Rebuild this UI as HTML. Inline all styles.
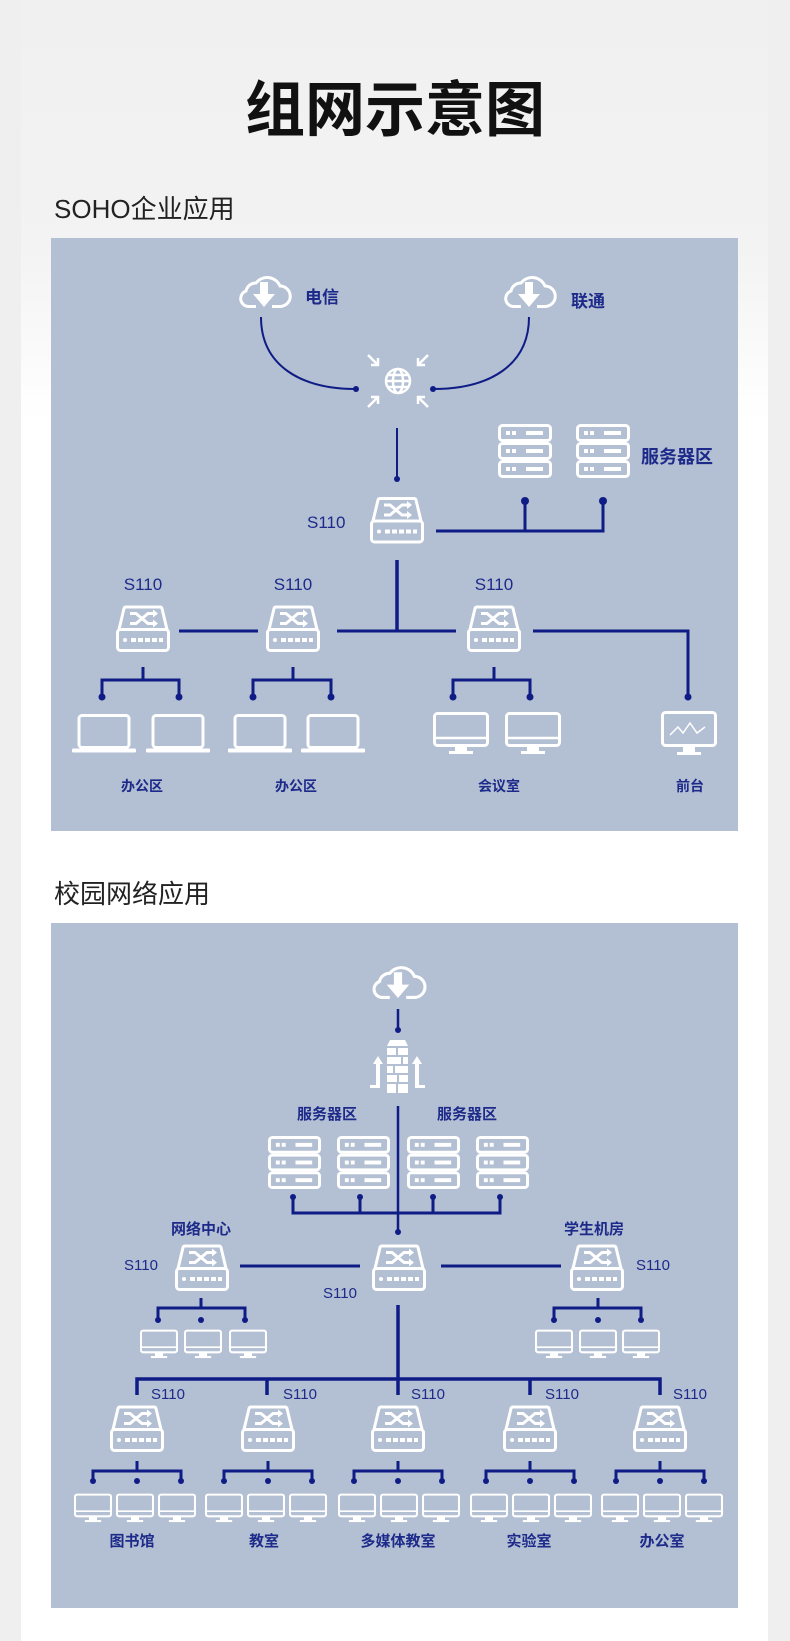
<!DOCTYPE html>
<html><head><meta charset="utf-8"><style>
html,body{margin:0;padding:0;}
body{width:790px;height:1641px;background:#efefef;overflow:hidden;}
.card{position:absolute;left:21px;top:0;width:747px;height:1641px;background:linear-gradient(#f0f0f0 0px,#f3f3f3 250px,#fff 420px,#fff 100%);}
svg{position:absolute;left:0;top:0;}
text{font-family:"Liberation Sans","Noto Sans CJK SC",sans-serif;}
</style></head><body>
<div class="card"></div>
<svg width="790" height="1641" viewBox="0 0 790 1641" xmlns="http://www.w3.org/2000/svg">
<defs>
<symbol id="sw" viewBox="0 0 56 48">
<path d="M4 25 L9 4 Q9.5 2.5 11 2.5 L45 2.5 Q46.5 2.5 47 4 L52 25" fill="none" stroke="#fff" stroke-width="3"/>
<rect x="2.5" y="25" width="51" height="21" rx="3" fill="none" stroke="#fff" stroke-width="3"/>
<circle cx="10" cy="35.5" r="2" fill="#fff"/>
<rect x="16" y="33.5" width="5" height="4" fill="#fff"/><rect x="23" y="33.5" width="5" height="4" fill="#fff"/><rect x="30" y="33.5" width="5" height="4" fill="#fff"/><rect x="37" y="33.5" width="5" height="4" fill="#fff"/><rect x="44" y="33.5" width="4" height="4" fill="#fff"/>
<path d="M15 9 H21 L33 19 H39 M15 19 H21 L33 9 H39" fill="none" stroke="#fff" stroke-width="3"/>
<path d="M38 5 L43 9 L38 13 Z M38 15 L43 19 L38 23 Z" fill="#fff"/>
</symbol>
<symbol id="srv" viewBox="0 0 54 54">
<g fill="none" stroke="#fff" stroke-width="3"><rect x="1.5" y="1.5" width="51" height="15" rx="3"/><rect x="1.5" y="19.5" width="51" height="15" rx="3"/><rect x="1.5" y="37.5" width="51" height="15" rx="3"/></g>
<g fill="#fff"><rect x="8" y="7" width="4" height="4"/><rect x="14" y="7" width="4" height="4"/><rect x="28" y="7" width="17" height="4"/><rect x="8" y="25" width="4" height="4"/><rect x="14" y="25" width="4" height="4"/><rect x="28" y="25" width="17" height="4"/><rect x="8" y="43" width="4" height="4"/><rect x="14" y="43" width="4" height="4"/><rect x="28" y="43" width="17" height="4"/></g>
</symbol>
<symbol id="lap" viewBox="0 0 64 40">
<rect x="7" y="1.5" width="50" height="32" rx="3" fill="none" stroke="#fff" stroke-width="3"/>
<path d="M1.5 36.5 H62.5" stroke="#fff" stroke-width="4" stroke-linecap="round"/>
</symbol>
<symbol id="mon" viewBox="0 0 56 44">
<rect x="1.5" y="1.5" width="53" height="32" rx="3" fill="none" stroke="#fff" stroke-width="3"/>
<path d="M2 26 H54" stroke="#fff" stroke-width="2.5"/>
<rect x="22" y="34" width="12" height="5" fill="#fff"/><rect x="16" y="39" width="24" height="3" fill="#fff"/>
</symbol>
<symbol id="cloud" viewBox="0 0 60 36">
<path d="M22 33.5 H14 A8 8 0 0 1 12 18 A10 10 0 0 1 22 10 A14 14 0 0 1 46 13 A10 10 0 0 1 46 33.5 H38" fill="none" stroke="#fff" stroke-width="3"/>
<rect x="26" y="9" width="8" height="13" fill="#fff"/><path d="M19 21 H41 L30 34 Z" fill="#fff"/>
</symbol>
<symbol id="fw" viewBox="0 0 59 54">
<g fill="#fff"><path d="M22 0 H37 L40 6 H19 Z"/><rect x="19" y="8" width="9" height="7"/><rect x="30" y="8" width="10" height="7"/><rect x="19" y="17" width="14" height="7"/><rect x="35" y="17" width="5" height="7"/><rect x="19" y="26" width="6" height="7"/><rect x="27" y="26" width="13" height="7"/><rect x="19" y="35" width="10" height="7"/><rect x="31" y="35" width="9" height="7"/><rect x="19" y="44" width="9" height="9"/><rect x="30" y="44" width="10" height="9"/>
<path d="M5 24 L10 16 L15 24 H12 V48 H2 V45 H8 V24 Z"/><path d="M44 24 L49 16 L54 24 H51 V45 H57 V48 H47 V24 Z"/></g>
</symbol>
</defs>

<text x="395" y="131" text-anchor="middle" font-size="60" font-weight="bold" fill="#111" style="font-family:'Noto Sans CJK SC',sans-serif">组网示意图</text>
<text x="54" y="218" font-size="26" fill="#222">SOHO企业应用</text>
<rect x="51" y="238" width="687" height="593" fill="#b3bfd2"/>

<!-- panel 1 -->
<use href="#cloud" x="234" y="273" width="60" height="36"/>
<use href="#cloud" x="499" y="273" width="60" height="36"/>
<text x="305" y="303" font-size="17" font-weight="bold" fill="#1d2a8a">电信</text>
<text x="571" y="307" font-size="17" font-weight="bold" fill="#1d2a8a">联通</text>
<g fill="none" stroke="#0f1c86" stroke-width="2">
<path d="M261 317 C261 365 300 389 356 389"/><path d="M529 317 C529 365 490 389 433 389"/>
<path d="M397 428 V479"/>
</g>
<circle cx="356" cy="389" r="3" fill="#0f1c86"/><circle cx="433" cy="389" r="3" fill="#0f1c86"/><circle cx="397" cy="479" r="3" fill="#0f1c86"/>
<g fill="none" stroke="#fff" stroke-width="2.5">
<circle cx="398" cy="381" r="12"/><ellipse cx="398" cy="381" rx="5" ry="12"/><path d="M386 381 H410 M388 375 H408 M388 387 H408"/>
<path d="M368 355 L378 365 M378 358 V365 H371"/><path d="M428 355 L418 365 M418 358 V365 H425"/>
<path d="M368 407 L378 397 M371 397 H378 V404"/><path d="M428 407 L418 397 M425 397 H418 V404"/>
</g>
<use href="#sw" x="369" y="495" width="56" height="50"/>
<text x="307" y="528" font-size="17" fill="#1d2a8a">S110</text>
<use href="#srv" x="498" y="424" width="54" height="54"/>
<use href="#srv" x="576" y="424" width="54" height="54"/>
<text x="641" y="463" font-size="18" font-weight="bold" fill="#1d2a8a">服务器区</text>
<g fill="none" stroke="#0f1c86" stroke-width="3">
<path d="M436 531 H603 V501 M525 531 V501"/>
<path d="M397 560 V631" stroke-width="3.5"/>
<path d="M179 631 H258 M337 631 H456 M533 631 H688 V697"/>
<path d="M143 667 V680 M102 697 V680 H179 V697"/>
<path d="M293 667 V680 M253 697 V680 H331 V697"/>
<path d="M494 667 V680 M453 697 V680 H530 V697"/>
</g>
<g fill="#0f1c86"><circle cx="525" cy="501" r="4"/><circle cx="603" cy="501" r="4"/><circle cx="688" cy="697" r="3.5"/>
<circle cx="102" cy="697" r="3.5"/><circle cx="179" cy="697" r="3.5"/><circle cx="253" cy="697" r="3.5"/><circle cx="331" cy="697" r="3.5"/><circle cx="453" cy="697" r="3.5"/><circle cx="530" cy="697" r="3.5"/></g>
<use href="#sw" x="115" y="603" width="56" height="51"/><use href="#sw" x="265" y="603" width="56" height="51"/><use href="#sw" x="466" y="603" width="56" height="51"/>
<g font-size="17" fill="#1d2a8a" text-anchor="middle"><text x="143" y="590">S110</text><text x="293" y="590">S110</text><text x="494" y="590">S110</text></g>
<use href="#lap" x="72" y="714" width="64" height="40"/><use href="#lap" x="146" y="714" width="64" height="40"/>
<use href="#lap" x="228" y="714" width="64" height="40"/><use href="#lap" x="301" y="714" width="64" height="40"/>
<use href="#mon" x="433" y="711" width="56" height="46"/><use href="#mon" x="505" y="711" width="56" height="46"/>
<g><rect x="662.5" y="712.5" width="53" height="33" rx="3" fill="none" stroke="#fff" stroke-width="3"/>
<path d="M670 735 L678 727 L683 733 L690 723 L697 733 L705 727" fill="none" stroke="#fff" stroke-width="1.5"/>
<rect x="683" y="747" width="12" height="5" fill="#fff"/><rect x="677" y="752" width="24" height="3" fill="#fff"/></g>
<g font-size="14" font-weight="bold" fill="#1d2a8a" text-anchor="middle"><text x="142" y="791">办公区</text><text x="296" y="791">办公区</text><text x="499" y="791">会议室</text><text x="690" y="791">前台</text></g>

<!-- panel 2 -->
<text x="54" y="903" font-size="26" fill="#222">校园网络应用</text>
<rect x="51" y="923" width="687" height="685" fill="#b3bfd2"/>
<use href="#cloud" x="367" y="963" width="62" height="37"/>
<use href="#fw" x="368" y="1040" width="59" height="54"/>
<g fill="none" stroke="#0f1c86" stroke-width="2.5"><path d="M398 1009 V1030"/><path d="M398 1106 V1232"/></g>
<g font-size="15" font-weight="bold" fill="#1d2a8a" text-anchor="middle"><text x="327" y="1119">服务器区</text><text x="467" y="1119">服务器区</text>
<text x="201" y="1234">网络中心</text><text x="594" y="1234">学生机房</text></g>
<use href="#srv" x="268" y="1136" width="53" height="53"/><use href="#srv" x="337" y="1136" width="53" height="53"/><use href="#srv" x="407" y="1136" width="53" height="53"/><use href="#srv" x="476" y="1136" width="53" height="53"/>
<g fill="none" stroke="#0f1c86" stroke-width="3">
<path d="M293 1197 V1213 H500 V1197 M360 1197 V1213 M433 1197 V1213"/>
<path d="M240 1266 H360 M441 1266 H561"/>
<path d="M201 1298 V1308 M158 1320 V1308 H245 V1320"/>
<path d="M598 1298 V1308 M554 1320 V1308 H641 V1320"/>
<path d="M398 1305 V1379" stroke-width="3.5"/>
<path d="M137 1395 V1379 H660 V1395 M267 1379 V1395 M398 1379 V1395 M530 1379 V1395" stroke-width="3.5"/>
<path d="M137 1461 V1471 M93 1481 V1471 H181 V1481"/>
<path d="M268 1461 V1471 M224 1481 V1471 H312 V1481"/>
<path d="M398 1461 V1471 M354 1481 V1471 H442 V1481"/>
<path d="M530 1461 V1471 M486 1481 V1471 H574 V1481"/>
<path d="M660 1461 V1471 M616 1481 V1471 H704 V1481"/>
</g>
<g fill="#0f1c86">
<circle cx="398" cy="1030" r="3"/><circle cx="398" cy="1232" r="3"/>
<circle cx="293" cy="1197" r="3"/><circle cx="360" cy="1197" r="3"/><circle cx="433" cy="1197" r="3"/><circle cx="500" cy="1197" r="3"/>
<circle cx="158" cy="1320" r="3"/><circle cx="201" cy="1320" r="3"/><circle cx="245" cy="1320" r="3"/>
<circle cx="554" cy="1320" r="3"/><circle cx="598" cy="1320" r="3"/><circle cx="641" cy="1320" r="3"/>
<circle cx="93" cy="1481" r="3"/><circle cx="137" cy="1481" r="3"/><circle cx="181" cy="1481" r="3"/>
<circle cx="224" cy="1481" r="3"/><circle cx="268" cy="1481" r="3"/><circle cx="312" cy="1481" r="3"/>
<circle cx="354" cy="1481" r="3"/><circle cx="398" cy="1481" r="3"/><circle cx="442" cy="1481" r="3"/>
<circle cx="486" cy="1481" r="3"/><circle cx="530" cy="1481" r="3"/><circle cx="574" cy="1481" r="3"/>
<circle cx="616" cy="1481" r="3"/><circle cx="660" cy="1481" r="3"/><circle cx="704" cy="1481" r="3"/>
</g>
<use href="#sw" x="371" y="1243" width="56" height="49"/><use href="#sw" x="174" y="1243" width="56" height="49"/><use href="#sw" x="569" y="1243" width="56" height="49"/>
<g font-size="15" fill="#1d2a8a" text-anchor="middle"><text x="340" y="1298">S110</text><text x="141" y="1270">S110</text><text x="653" y="1270">S110</text>
<text x="168" y="1399">S110</text><text x="300" y="1399">S110</text><text x="428" y="1399">S110</text><text x="562" y="1399">S110</text><text x="690" y="1399">S110</text></g>
<use href="#mon" x="140" y="1329" width="38" height="31"/><use href="#mon" x="184" y="1329" width="38" height="31"/><use href="#mon" x="229" y="1329" width="38" height="31"/>
<use href="#mon" x="535" y="1329" width="38" height="31"/><use href="#mon" x="579" y="1329" width="38" height="31"/><use href="#mon" x="622" y="1329" width="38" height="31"/>
<use href="#sw" x="109" y="1404" width="56" height="49"/><use href="#sw" x="240" y="1404" width="56" height="49"/><use href="#sw" x="370" y="1404" width="56" height="49"/><use href="#sw" x="502" y="1404" width="56" height="49"/><use href="#sw" x="632" y="1404" width="56" height="49"/>
<g>
<use href="#mon" x="74" y="1493" width="38" height="31"/><use href="#mon" x="116" y="1493" width="38" height="31"/><use href="#mon" x="158" y="1493" width="38" height="31"/>
<use href="#mon" x="205" y="1493" width="38" height="31"/><use href="#mon" x="247" y="1493" width="38" height="31"/><use href="#mon" x="289" y="1493" width="38" height="31"/>
<use href="#mon" x="338" y="1493" width="38" height="31"/><use href="#mon" x="380" y="1493" width="38" height="31"/><use href="#mon" x="422" y="1493" width="38" height="31"/>
<use href="#mon" x="470" y="1493" width="38" height="31"/><use href="#mon" x="512" y="1493" width="38" height="31"/><use href="#mon" x="554" y="1493" width="38" height="31"/>
<use href="#mon" x="601" y="1493" width="38" height="31"/><use href="#mon" x="643" y="1493" width="38" height="31"/><use href="#mon" x="685" y="1493" width="38" height="31"/>
</g>
<g font-size="15" font-weight="bold" fill="#1d2a8a" text-anchor="middle"><text x="132" y="1546">图书馆</text><text x="264" y="1546">教室</text><text x="398" y="1546">多媒体教室</text><text x="529" y="1546">实验室</text><text x="662" y="1546">办公室</text></g>
</svg>
</body></html>
